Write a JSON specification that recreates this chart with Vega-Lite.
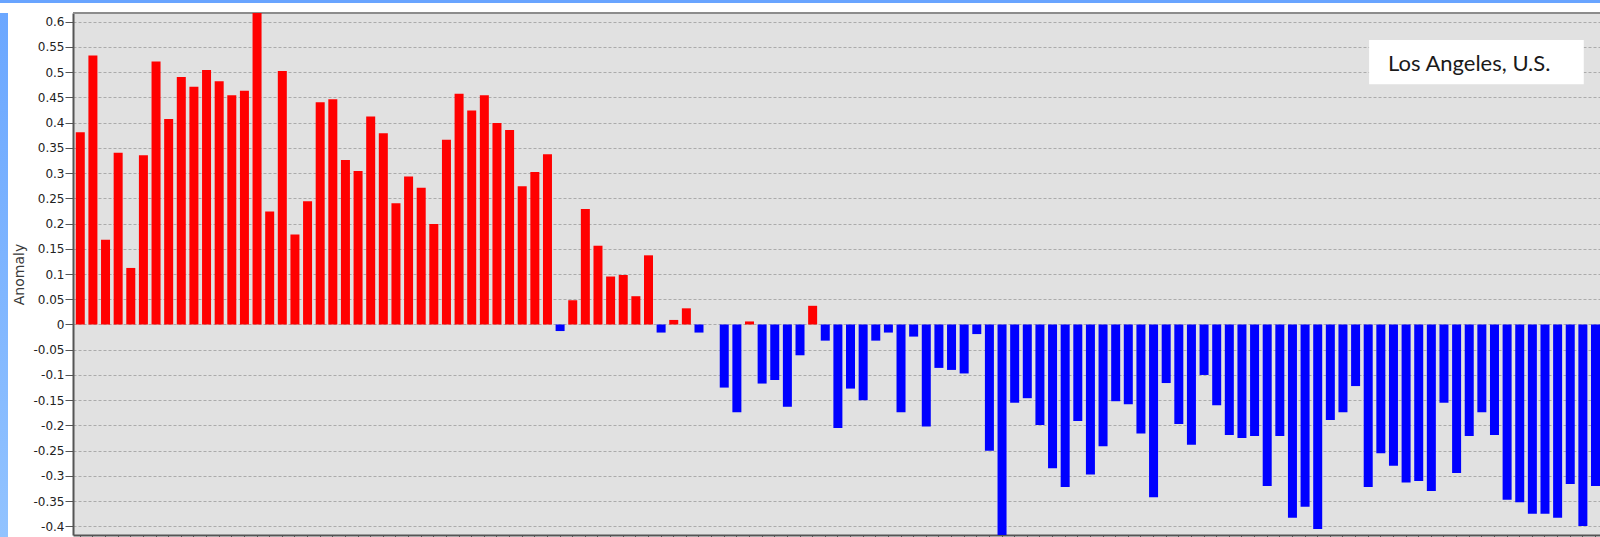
{
  "$schema": "https://vega.github.io/schema/vega-lite/v6.json",
  "padding": 0,
  "background": "#ffffff",
  "spacing": 9,
  "config": {"view": {"stroke": null}},
  "datasets": {
    "anom": [
      {"i":0,"anomaly":0.381},{"i":1,"anomaly":0.533},{"i":2,"anomaly":0.168},{"i":3,"anomaly":0.340},{"i":4,"anomaly":0.112},
      {"i":5,"anomaly":0.335},{"i":6,"anomaly":0.521},{"i":7,"anomaly":0.407},{"i":8,"anomaly":0.490},{"i":9,"anomaly":0.471},
      {"i":10,"anomaly":0.504},{"i":11,"anomaly":0.482},{"i":12,"anomaly":0.454},{"i":13,"anomaly":0.463},{"i":14,"anomaly":0.62},
      {"i":15,"anomaly":0.224},{"i":16,"anomaly":0.502},{"i":17,"anomaly":0.178},{"i":18,"anomaly":0.244},{"i":19,"anomaly":0.440},
      {"i":20,"anomaly":0.446},{"i":21,"anomaly":0.326},{"i":22,"anomaly":0.304},{"i":23,"anomaly":0.412},{"i":24,"anomaly":0.379},
      {"i":25,"anomaly":0.240},{"i":26,"anomaly":0.293},{"i":27,"anomaly":0.271},{"i":28,"anomaly":0.199},{"i":29,"anomaly":0.366},
      {"i":30,"anomaly":0.457},{"i":31,"anomaly":0.424},{"i":32,"anomaly":0.454},{"i":33,"anomaly":0.399},{"i":34,"anomaly":0.385},
      {"i":35,"anomaly":0.274},{"i":36,"anomaly":0.302},{"i":37,"anomaly":0.337},{"i":38,"anomaly":-0.013},{"i":39,"anomaly":0.048},
      {"i":40,"anomaly":0.229},{"i":41,"anomaly":0.156},{"i":42,"anomaly":0.095},{"i":43,"anomaly":0.098},{"i":44,"anomaly":0.056},
      {"i":45,"anomaly":0.137},{"i":46,"anomaly":-0.016},{"i":47,"anomaly":0.009},{"i":48,"anomaly":0.032},{"i":49,"anomaly":-0.016},
      {"i":50,"anomaly":0},{"i":51,"anomaly":-0.125},{"i":52,"anomaly":-0.174},{"i":53,"anomaly":0.006},{"i":54,"anomaly":-0.117},
      {"i":55,"anomaly":-0.110},{"i":56,"anomaly":-0.163},{"i":57,"anomaly":-0.061},{"i":58,"anomaly":0.037},{"i":59,"anomaly":-0.032},
      {"i":60,"anomaly":-0.205},{"i":61,"anomaly":-0.127},{"i":62,"anomaly":-0.150},{"i":63,"anomaly":-0.032},{"i":64,"anomaly":-0.016},
      {"i":65,"anomaly":-0.174},{"i":66,"anomaly":-0.024},{"i":67,"anomaly":-0.202},{"i":68,"anomaly":-0.086},{"i":69,"anomaly":-0.090},
      {"i":70,"anomaly":-0.097},{"i":71,"anomaly":-0.019},{"i":72,"anomaly":-0.250},{"i":73,"anomaly":-0.43},{"i":74,"anomaly":-0.155},
      {"i":75,"anomaly":-0.146},{"i":76,"anomaly":-0.199},{"i":77,"anomaly":-0.285},{"i":78,"anomaly":-0.322},{"i":79,"anomaly":-0.191},
      {"i":80,"anomaly":-0.297},{"i":81,"anomaly":-0.241},{"i":82,"anomaly":-0.152},{"i":83,"anomaly":-0.158},{"i":84,"anomaly":-0.216},
      {"i":85,"anomaly":-0.342},{"i":86,"anomaly":-0.116},{"i":87,"anomaly":-0.197},{"i":88,"anomaly":-0.238},{"i":89,"anomaly":-0.100},
      {"i":90,"anomaly":-0.160},{"i":91,"anomaly":-0.219},{"i":92,"anomaly":-0.225},{"i":93,"anomaly":-0.221},{"i":94,"anomaly":-0.320},
      {"i":95,"anomaly":-0.221},{"i":96,"anomaly":-0.383},{"i":97,"anomaly":-0.361},{"i":98,"anomaly":-0.405},{"i":99,"anomaly":-0.189},
      {"i":100,"anomaly":-0.174},{"i":101,"anomaly":-0.122},{"i":102,"anomaly":-0.322},{"i":103,"anomaly":-0.255},{"i":104,"anomaly":-0.280},
      {"i":105,"anomaly":-0.313},{"i":106,"anomaly":-0.310},{"i":107,"anomaly":-0.330},{"i":108,"anomaly":-0.155},{"i":109,"anomaly":-0.294},
      {"i":110,"anomaly":-0.221},{"i":111,"anomaly":-0.174},{"i":112,"anomaly":-0.219},{"i":113,"anomaly":-0.347},{"i":114,"anomaly":-0.352},
      {"i":115,"anomaly":-0.375},{"i":116,"anomaly":-0.375},{"i":117,"anomaly":-0.383},{"i":118,"anomaly":-0.316},{"i":119,"anomaly":-0.399},
      {"i":120,"anomaly":-0.320}
    ]
  },
  "vconcat": [
    {
      "width": 1600,
      "height": 3,
      "data": {"values": [{"frame": "top"}]},
      "mark": {"type": "rect", "color": "#68a4ff"},
      "encoding": {}
    },
    {
      "spacing": 4,
      "hconcat": [
        {
          "width": 8,
          "height": 524,
          "data": {"values": [{"frame": "left"}]},
          "mark": {"type": "rect", "color": {"gradient": "linear", "x1": 0, "y1": 0, "x2": 0, "y2": 1, "stops": [{"offset": 0, "color": "#6ba7ff"}, {"offset": 1, "color": "#92c3ff"}]}},
          "encoding": {}
        },
        {
          "width": 1527,
          "height": 522,
          "view": {"fill": "#e1e1e1", "stroke": null},
          "data": {"name": "anom"},
          "layer": [
            {
              "mark": {"type": "rule", "color": "#8c8c8c", "strokeWidth": 2},
              "encoding": {"y": {"datum": 0.617, "type": "quantitative",
                "axis": {
                    "title": "Anomaly",
                    "values": [-0.4,-0.35,-0.3,-0.25,-0.2,-0.15,-0.1,-0.05,0,0.05,0.1,0.15,0.2,0.25,0.3,0.35,0.4,0.45,0.5,0.55,0.6],
                    "tickCount": 21,
                    "labelExpr": "replace(format(datum.value, '~g'), '\u2212', '-')",
                    "labelOverlap": false, "labelBound": false,
                    "labelFont": "DejaVu Sans", "labelFontSize": 12, "labelColor": "#222222", "labelPadding": 1,
                    "tickSize": 8, "tickColor": "#555555", "tickWidth": 1,
                    "domainColor": "#555555", "domainWidth": 2,
                    "grid": true, "gridColor": "#ababab", "gridDash": [3, 2], "gridWidth": 1,
                    "titleFont": "DejaVu Sans", "titleFontSize": 14, "titleFontWeight": "normal", "titleColor": "#3a3a3a",
                    "titleAngle": 270, "titleX": -50, "titleY": 261, "titleAlign": "center", "titleBaseline": "alphabetic"
                }}}
            },
            {
              "mark": {"type": "bar", "clip": true},
              "encoding": {
                "x": {
                  "field": "i", "type": "ordinal",
                  "scale": {"type": "band", "paddingInner": 0.287, "paddingOuter": 0.11, "align": 1},
                  "axis": {"orient": "bottom", "labels": false, "title": null, "grid": false, "tickSize": 2, "tickColor": "#555555", "domainColor": "#555555", "domainWidth": 2}
                },
                "y": {
                  "field": "anomaly", "type": "quantitative",
                  "scale": {"domain": [-0.417, 0.617], "nice": false, "zero": false},
                  "axis": {
                    "title": "Anomaly",
                    "values": [-0.4,-0.35,-0.3,-0.25,-0.2,-0.15,-0.1,-0.05,0,0.05,0.1,0.15,0.2,0.25,0.3,0.35,0.4,0.45,0.5,0.55,0.6],
                    "tickCount": 21,
                    "labelExpr": "replace(format(datum.value, '~g'), '\u2212', '-')",
                    "labelOverlap": false, "labelBound": false,
                    "labelFont": "DejaVu Sans", "labelFontSize": 12, "labelColor": "#222222", "labelPadding": 1,
                    "tickSize": 8, "tickColor": "#555555", "tickWidth": 1,
                    "domainColor": "#555555", "domainWidth": 2,
                    "grid": true, "gridColor": "#ababab", "gridDash": [3, 2], "gridWidth": 1,
                    "titleFont": "DejaVu Sans", "titleFontSize": 14, "titleFontWeight": "normal", "titleColor": "#3a3a3a",
                    "titleAngle": 270, "titleX": -50, "titleY": 261, "titleAlign": "center", "titleBaseline": "alphabetic"
                  }
                },
                "color": {"condition": {"test": "datum.anomaly >= 0", "value": "#ff0000"}, "value": "#0000ff"}
              }
            },
            {
              "data": {"values": [{"label": "Los Angeles, U.S."}]},
              "mark": {"type": "rect", "color": "#ffffff"},
              "encoding": {
                "x": {"datum": 102, "type": "ordinal", "bandPosition": 0.6},
                "x2": {"datum": 119, "bandPosition": 0.6},
                "y": {"datum": 0.5635, "type": "quantitative"},
                "y2": {"datum": 0.4758}
              }
            },
            {
              "data": {"values": [{"label": "Los Angeles, U.S."}]},
              "mark": {"type": "text", "font": "Lato", "fontSize": 22, "color": "#1a1a1a", "align": "center", "baseline": "alphabetic"},
              "encoding": {
                "x": {"datum": 110, "type": "ordinal", "bandPosition": 0.5},
                "y": {"datum": 0.5027, "type": "quantitative"},
                "text": {"field": "label"}
              }
            }
          ]
        }
      ]
    }
  ]
}
